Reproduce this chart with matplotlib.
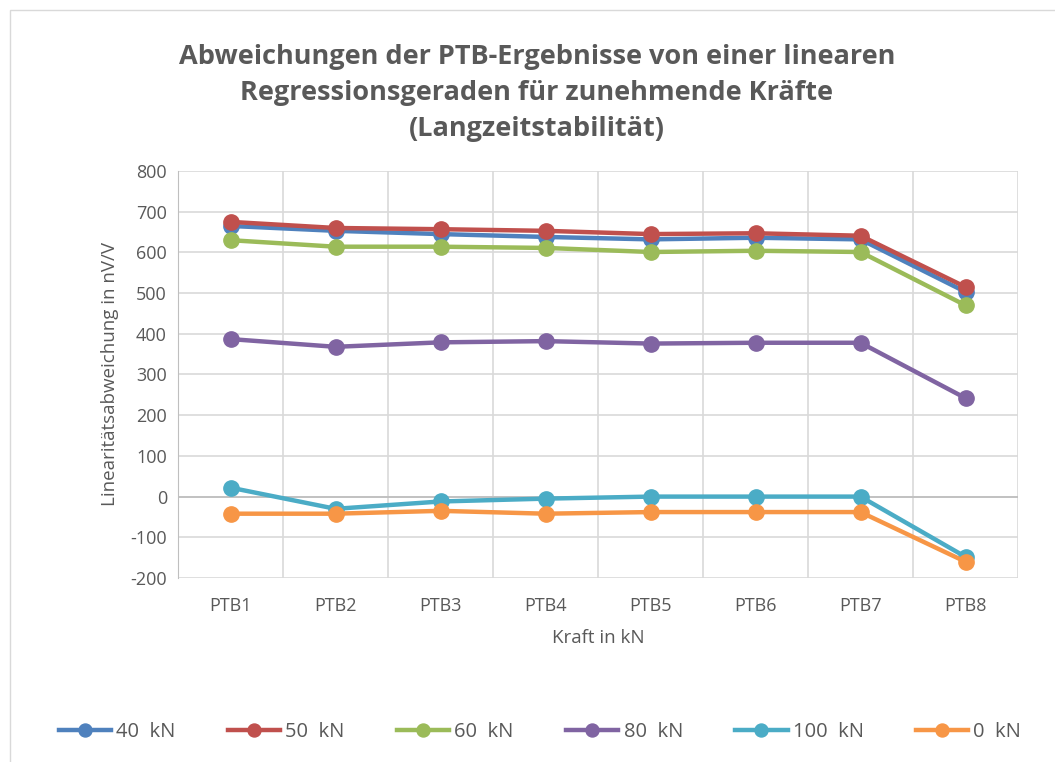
import numpy as np
import matplotlib.pyplot as plt
from matplotlib.patches import Rectangle

plt.rcParams['font.family'] = ['Open Sans', 'DejaVu Sans']
plt.rcParams['axes.unicode_minus'] = False

kategorien = ['PTB1', 'PTB2', 'PTB3', 'PTB4', 'PTB5', 'PTB6', 'PTB7', 'PTB8']
kraft_40 = [665, 653, 645, 638, 632, 636, 632, 503]
kraft_50 = [675, 660, 657, 653, 645, 647, 641, 515]
kraft_60 = [630, 614, 614, 611, 601, 604, 601, 470]
kraft_80 = [387, 368, 379, 382, 376, 378, 378, 242]
kraft_100 = [22, -30, -12, -5, 0, 0, 0, -148]
kraft_0 = [-42, -42, -35, -42, -38, -38, -38, -160]

serien = [
    ('40  kN', kraft_40, '#4F81BD'),
    ('50  kN', kraft_50, '#C0504D'),
    ('60  kN', kraft_60, '#9BBB59'),
    ('80  kN', kraft_80, '#8064A2'),
    ('100  kN', kraft_100, '#4BACC6'),
    ('0  kN', kraft_0, '#F79646'),
]

fig = plt.figure(figsize=(10.55, 7.62), dpi=100)
# Rahmen des Diagrammbereichs
fig.patches.append(Rectangle((10 / 1055, -0.01), 1.2, 1 - 10 / 762 + 0.01,
                             transform=fig.transFigure, fill=False,
                             edgecolor='#D9D9D9', linewidth=1))

ax = fig.add_axes([178 / 1055, 1 - 578 / 762, 840 / 1055, 407 / 762])
x = np.arange(len(kategorien))

for name, werte, farbe in serien:
    ax.plot(x, werte, color=farbe, linewidth=3.2, marker='o', markersize=11,
            label=name, zorder=3)

ax.set_xlim(-0.5, len(kategorien) - 0.5)
ax.set_ylim(-200, 800)
ax.set_yticks(np.arange(-200, 801, 100))
ax.set_xticks(x)
ax.set_xticklabels(kategorien)
ax.set_xticks(np.arange(-0.5, len(kategorien), 1), minor=True)
ax.grid(True, which='major', axis='y', color='#D9D9D9', linewidth=1.2)
ax.grid(True, which='minor', axis='x', color='#D9D9D9', linewidth=1.2)
ax.axhline(0, color='#BFBFBF', linewidth=1.3, zorder=2)
ax.tick_params(which='both', length=0, labelsize=13, colors='#595959', pad=8)
ax.tick_params(axis='x', pad=14)
for s in ['top', 'right', 'bottom']:
    ax.spines[s].set_visible(False)
ax.spines['left'].set_color('#BFBFBF')

ax.set_xlabel('Kraft in kN', fontsize=13.5, color='#595959', labelpad=10)
ax.set_ylabel('Linearitätsabweichung in nV/V', fontsize=13.5, color='#595959', labelpad=8)

fig.text(537 / 1055, 1 - 93 / 762,
         'Abweichungen der PTB-Ergebnisse von einer linearen\n'
         'Regressionsgeraden für zunehmende Kräfte\n(Langzeitstabilität)',
         ha='center', va='center', fontsize=19.5, fontweight='bold',
         color='#595959', linespacing=1.5)

fig.legend(loc='center', bbox_to_anchor=(540 / 1055, 1 - 732 / 762), ncol=6,
           frameon=False, fontsize=14.5, handlelength=2.6, columnspacing=2.6,
           handletextpad=0.25, labelcolor='#595959', markerscale=0.85)

fig.savefig('out.png', dpi=100)
